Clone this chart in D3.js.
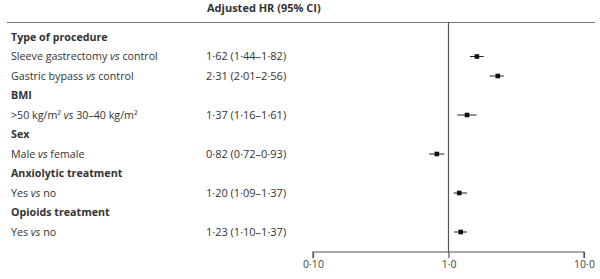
<!DOCTYPE html>
<html>
<head>
<meta charset="utf-8">
<script src="https://cdn.jsdelivr.net/npm/d3@7"></script>
<style>
  body { margin: 0; background: #fff; }
  svg { display: block; font-family: "Open Sans", sans-serif; }
</style>
</head>
<body>
<div id="chart"></div>
<script>
var width = 600, height = 279;

// rows of the table: heading rows have no estimate
var labels = ["Type of procedure", "Sleeve gastrectomy vs control", "Gastric bypass vs control",
  "BMI", ">50 kg/m\u00b2 vs 30\u201340 kg/m\u00b2", "Sex", "Male vs female",
  "Anxiolytic treatment", "Yes vs no", "Opioids treatment", "Yes vs no"];
var isHeading = [true, false, false, true, false, true, false, true, false, true, false];
var hr    = [null, 1.62, 2.31, null, 1.37, null, 0.82, null, 1.20, null, 1.23];
var lower = [null, 1.44, 2.01, null, 1.16, null, 0.72, null, 1.09, null, 1.10];
var upper = [null, 1.82, 2.56, null, 1.61, null, 0.93, null, 1.37, null, 1.37];
var ticks = [0.1, 1, 10];
var tickLabels = ["0\u00b710", "1\u00b70", "10\u00b70"];

function fmt(v) { return v.toFixed(2).replace(".", "\u00b7"); }

var svg = d3.select("#chart").append("svg")
  .attr("width", width)
  .attr("height", height);

var x = d3.scaleLog().domain([0.1, 10]).range([313, 584]);
var y = d3.scalePoint().domain(d3.range(labels.length)).range([37, 232]);
var axisY = 252;

svg.append("text")
  .attr("x", 207)
  .attr("y", 12)
  .style("font-size", "11px")
  .style("font-weight", "bold")
  .style("fill", "#333")
  .text("Adjusted HR (95% CI)");

svg.append("line")
  .attr("x1", 7).attr("x2", 595)
  .attr("y1", 22.5).attr("y2", 22.5)
  .style("stroke", "#777")
  .style("stroke-width", 1.2);

var rows = svg.selectAll(".row")
  .data(labels)
  .enter().append("g")
  .attr("class", "row")
  .attr("transform", function(d, i) { return "translate(0," + y(i) + ")"; });

// labels, with "vs" set in italic
rows.each(function(d, i) {
  var g = d3.select(this);
  var t = g.append("text")
    .attr("x", 11)
    .attr("dy", "0.35em")
    .style("font-size", "10.7px")
    .style("fill", "#333")
    .style("font-weight", isHeading[i] ? "bold" : "normal");
  var parts = d.split(" vs ");
  parts.forEach(function(p, k) {
    if (k > 0) t.append("tspan").style("font-style", "italic").text(" vs ");
    t.append("tspan").text(p);
  });

  if (hr[i] === null) return;

  g.append("text")
    .attr("x", 206)
    .attr("dy", "0.35em")
    .style("font-size", "11px")
    .style("fill", "#333")
    .text(fmt(hr[i]) + " (" + fmt(lower[i]) + "\u2013" + fmt(upper[i]) + ")");

  g.append("line")
    .attr("x1", x(lower[i])).attr("x2", x(upper[i]))
    .attr("y1", 0).attr("y2", 0)
    .style("stroke", "#222")
    .style("stroke-width", 1);

  g.append("rect")
    .attr("x", x(hr[i]) - 2.3)
    .attr("y", -2.3)
    .attr("width", 4.6)
    .attr("height", 4.6)
    .style("fill", "#111");
});

// reference line at HR = 1
svg.append("line")
  .attr("x1", x(1)).attr("x2", x(1))
  .attr("y1", 22).attr("y2", axisY)
  .style("stroke", "#555")
  .style("stroke-width", 1.2);

var xAxis = d3.axisBottom(x)
  .tickValues(ticks)
  .tickSize(6)
  .tickPadding(3)
  .tickFormat(function(d, i) { return tickLabels[i]; });

var gx = svg.append("g")
  .attr("transform", "translate(0," + axisY + ")")
  .call(xAxis);
gx.select(".domain").attr("d", "M" + x(0.1) + ",6V0H" + x(10) + "V6").style("stroke", "#555").style("stroke-width", 1.2);
gx.selectAll(".tick line").style("stroke", "#555").style("stroke-width", 1.2);
gx.selectAll(".tick text")
  .style("font-family", "Open Sans, sans-serif")
  .style("font-size", "10.5px")
  .style("fill", "#444");
</script>
</body>
</html>
